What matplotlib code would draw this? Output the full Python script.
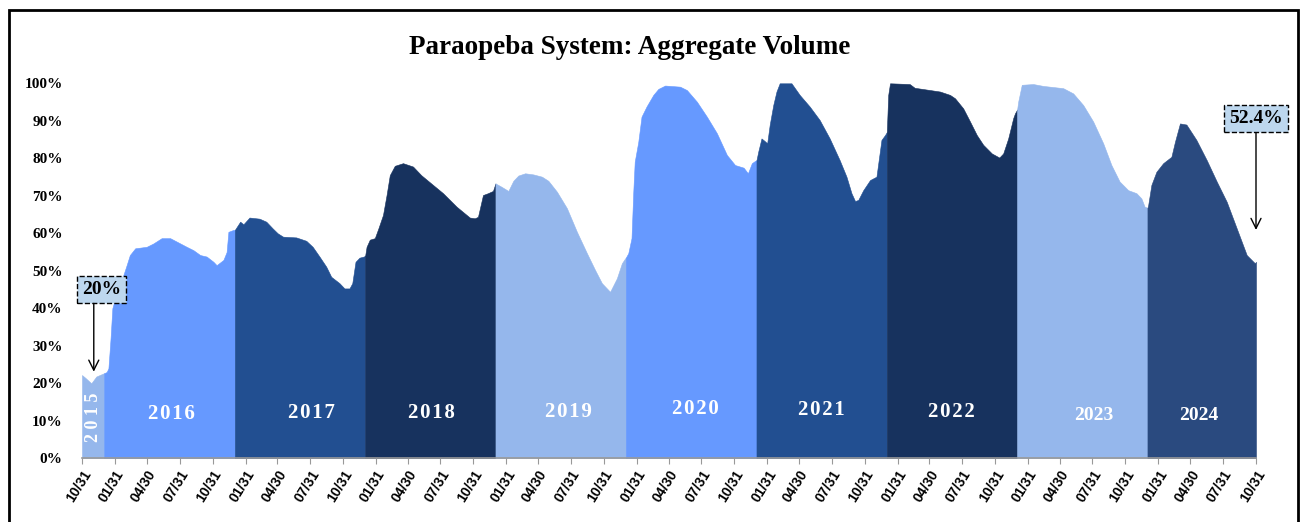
import pandas as pd
import matplotlib.pyplot as plt
from matplotlib.patches import Rectangle

# storage (% of capacity) read at irregular dates, one list per calendar year
days_2015 = ["10-31", "11-10", "11-26", "12-10", "12-22"]
vol_2015 = [22.2, 21.4, 20.0, 21.8, 22.3]

days_2016 = ["01-01", "01-08", "01-13", "01-19", "01-24", "02-01", "02-10", "02-24", "03-04",
             "03-13", "03-28", "04-29", "05-18", "06-10", "07-04", "08-01", "08-19", "09-07",
             "09-26", "10-14", "11-02", "11-11", "11-30", "12-09", "12-14", "12-28"]
vol_2016 = [22.7, 23.0, 24.0, 32.0, 40.0, 42.7, 44.4, 48.9, 51.5,
            54.2, 56.0, 56.4, 57.3, 58.7, 58.7, 57.3, 56.4, 55.5,
            54.2, 53.8, 52.4, 51.5, 52.9, 55.0, 60.4, 60.9]

days_2017 = ["01-01", "01-16", "01-25", "02-11", "03-11", "03-30", "04-17", "05-01", "05-16",
             "06-22", "07-20", "08-07", "08-26", "09-14", "09-28", "10-21", "11-04", "11-18",
             "11-26", "12-05", "12-16", "12-28"]
vol_2017 = [60.9, 63.1, 62.4, 64.2, 63.9, 63.1, 61.3, 60.0, 59.1,
            58.9, 58.0, 56.4, 53.8, 51.1, 48.4, 46.7, 45.3, 45.3,
            46.7, 52.4, 53.5, 53.8]

days_2018 = ["01-01", "01-05", "01-14", "01-28", "02-07", "02-20", "03-02", "03-11", "03-25",
             "04-17", "05-15", "06-07", "07-10", "08-07", "09-14", "10-21", "11-04", "11-13",
             "11-27", "12-11", "12-25"]
vol_2018 = [54.0, 56.4, 58.3, 58.7, 61.3, 64.9, 70.2, 75.5, 78.0,
            78.7, 77.8, 75.5, 72.9, 70.7, 67.1, 64.2, 64.0, 64.4,
            70.2, 70.7, 71.3]

days_2019 = ["01-01", "01-18", "02-06", "02-20", "03-06", "03-25", "04-17", "05-11", "05-29",
             "06-22", "07-20", "08-17", "09-14", "10-07", "10-26", "11-18", "12-07", "12-21",
             "12-30"]
vol_2019 = [73.3, 72.4, 71.3, 74.0, 75.4, 76.0, 75.7, 75.1, 74.0,
            71.1, 66.7, 60.4, 54.7, 50.2, 46.7, 44.4, 48.0, 52.0,
            53.3]

days_2020 = ["01-01", "01-08", "01-17", "01-22", "01-26", "02-05", "02-14", "02-28", "03-18",
             "04-01", "04-20", "06-01", "06-20", "07-18", "08-15", "09-12", "10-10", "11-02",
             "11-26", "12-08", "12-19", "12-28"]
vol_2020 = [53.5, 54.7, 58.7, 71.1, 79.1, 84.4, 91.1, 93.8, 96.9,
            98.5, 99.4, 99.1, 98.2, 95.1, 91.1, 86.7, 80.9, 78.2,
            77.5, 76.0, 78.7, 79.3]

days_2021 = ["01-01", "01-06", "01-15", "01-24", "01-31", "02-07", "02-17", "02-26", "03-07",
             "04-09", "05-02", "05-30", "06-27", "07-25", "08-22", "09-10", "09-24", "10-04",
             "10-13", "10-27", "11-15", "12-03", "12-17", "12-27"]
vol_2021 = [79.5, 81.8, 85.3, 84.6, 84.0, 88.9, 94.2, 97.8, 100.0,
            100.0, 96.9, 93.8, 90.2, 85.3, 79.5, 75.1, 70.7, 68.6,
            68.9, 71.5, 74.2, 75.1, 84.9, 86.2]

days_2022 = ["01-01", "01-05", "01-10", "03-06", "03-20", "05-02", "05-30", "06-27", "07-11",
             "08-03", "08-22", "09-10", "09-28", "10-22", "11-12", "11-23", "12-07", "12-21",
             "12-26"]
vol_2022 = [87.0, 96.9, 100.0, 99.8, 98.8, 98.2, 97.8, 96.9, 96.0,
            93.3, 89.8, 86.2, 83.6, 81.3, 80.2, 81.3, 85.3, 90.7,
            92.0]

days_2023 = ["01-01", "01-04", "01-14", "02-15", "03-15", "05-10", "06-07", "07-05", "08-02",
             "08-30", "09-22", "10-15", "11-08", "12-01", "12-15", "12-24"]
vol_2023 = [93.0, 95.1, 99.6, 99.8, 99.3, 98.7, 97.3, 94.2, 89.8,
            84.0, 78.2, 73.8, 71.5, 70.7, 69.3, 67.1]

days_2024 = ["01-01", "01-03", "01-12", "01-26", "02-14", "03-08", "03-18", "04-01", "04-19",
             "05-17", "06-15", "07-13", "08-10", "09-07", "10-05", "10-28", "10-31"]
vol_2024 = [66.8, 67.5, 72.9, 76.4, 78.7, 80.4, 84.4, 89.3, 89.0,
            84.9, 79.5, 73.8, 68.4, 61.3, 54.2, 52.0, 52.4]

years = [2015, 2016, 2017, 2018, 2019, 2020, 2021, 2022, 2023, 2024]
year_days = [days_2015, days_2016, days_2017, days_2018, days_2019,
             days_2020, days_2021, days_2022, days_2023, days_2024]
year_vols = [vol_2015, vol_2016, vol_2017, vol_2018, vol_2019,
             vol_2020, vol_2021, vol_2022, vol_2023, vol_2024]
year_colors = ["#95b7ec", "#6699ff", "#224f91", "#17325e", "#95b7ec",
               "#6699ff", "#224f91", "#17325e", "#95b7ec", "#2a4a7f"]

serif = "Liberation Serif"
sans = "Liberation Sans"

fig = plt.figure(figsize=(13, 5.22), dpi=100)
ax = fig.add_axes([82 / 1300, 1 - 458.3 / 522, (1256 - 82) / 1300, (458.3 - 83.3) / 522])

# one filled block per year, each closed on the first point of the next one
for i, yr in enumerate(years):
    x = [pd.Timestamp(f"{yr}-{d}") for d in year_days[i]]
    y = list(year_vols[i])
    if i + 1 < len(years):
        x.append(pd.Timestamp(f"{years[i + 1]}-{year_days[i + 1][0]}"))
        y.append(year_vols[i + 1][0])
    ax.fill_between(x, y, 0, color=year_colors[i], linewidth=0.4,
                    edgecolor=year_colors[i])

start = pd.Timestamp("2015-10-31")
end = pd.Timestamp("2024-10-31")
ax.set_xlim(start, end)
ax.set_ylim(0, 100)

# quarterly ticks
ticks = []
for yr in range(2015, 2025):
    for md in ["01-31", "04-30", "07-31", "10-31"]:
        t = pd.Timestamp(f"{yr}-{md}")
        if start <= t <= end:
            ticks.append(t)
ax.set_xticks(ticks)
ax.set_xticklabels([t.strftime("%m/%d") for t in ticks], rotation=58, ha="right",
                   rotation_mode="anchor", fontsize=10, fontweight="bold", family=sans)
ax.tick_params(axis="x", length=4, color="#999999", pad=3)

ax.set_yticks(range(0, 101, 10))
ax.set_yticklabels([f"{v}%" for v in range(0, 101, 10)], fontsize=11,
                   fontweight="bold", family=serif)
ax.tick_params(axis="y", length=0, pad=14)

for side in ["top", "right", "left"]:
    ax.spines[side].set_visible(False)
ax.spines["bottom"].set_color("#999999")
ax.spines["bottom"].set_linewidth(1.2)

fig.text(630 / 1300, 1 - 48 / 522, "Paraopeba System: Aggregate Volume", ha="center",
         va="center", fontsize=19.5, fontweight="bold", family=serif)

# year names inside the blocks
hs = "\u200a"
year_text = [
    ("2016-07-08", 11.8, hs.join("2016"), 15),
    ("2017-08-04", 12.2, hs.join("2017"), 15),
    ("2018-07-06", 12.2, hs.join("2018"), 15),
    ("2019-07-24", 12.4, hs.join("2019"), 15),
    ("2020-07-15", 13.2, hs.join("2020"), 15),
    ("2021-07-02", 12.9, hs.join("2021"), 15),
    ("2022-07-01", 12.4, hs.join("2022"), 15),
    ("2023-08-04", 11.5, "2023", 14),
    ("2024-05-24", 11.5, "2024", 14),
]
for d, yv, s, fs in year_text:
    ax.text(pd.Timestamp(d), yv, s, ha="center", va="center", color="white",
            fontsize=fs, fontweight="bold", family=serif)
ax.text(pd.Timestamp("2015-12-02"), 10.9, " ".join("2015"), ha="center", va="center",
        rotation=90, color="white", fontsize=13, fontweight="bold", family=serif)

box = dict(boxstyle="square,pad=0.25", facecolor="#bdd7ee", edgecolor="black",
           linestyle="--", linewidth=1)
arrow = dict(arrowstyle="->", color="black", lw=1, mutation_scale=18, shrinkA=0, shrinkB=0)

# 20% call-out: box sits right of the arrow, arrow drops straight down
ax.text(pd.Timestamp("2015-12-24"), 45.1, f"{min(vol_2015):.0f}%", ha="center", va="center",
        fontsize=14, fontweight="bold", family=serif, bbox=box, clip_on=False)
ax.annotate("", xy=(pd.Timestamp("2015-12-03"), 23.1),
            xytext=(pd.Timestamp("2015-12-03"), 41.3), arrowprops=arrow,
            annotation_clip=False)

ax.annotate(f"{vol_2024[-1]:.1f}%", xy=(pd.Timestamp("2024-10-31"), 60.9),
            xytext=(pd.Timestamp("2024-10-31"), 90.7), ha="center", va="center",
            fontsize=14, fontweight="bold", family=serif, bbox=box, arrowprops=arrow,
            annotation_clip=False)

# outer frame
fig.patches.append(Rectangle((8.5 / 1300, -0.05), (1297.5 - 8.5) / 1300, 1.05 - 9.5 / 522,
                             transform=fig.transFigure, fill=False, edgecolor="black",
                             linewidth=2))

fig.savefig("out.png", dpi=100)
